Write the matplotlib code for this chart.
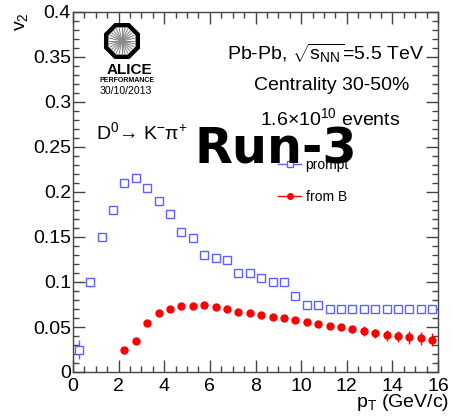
import numpy as np
import matplotlib
matplotlib.use("Agg")
import matplotlib.pyplot as plt
from matplotlib.patches import RegularPolygon
from matplotlib.lines import Line2D
from matplotlib.ticker import MultipleLocator

plt.rcParams['font.family'] = ['Liberation Sans', 'DejaVu Sans']
plt.rcParams['mathtext.fontset'] = 'custom'
plt.rcParams['mathtext.rm'] = 'Liberation Sans'
plt.rcParams['mathtext.it'] = 'Liberation Sans:italic'
plt.rcParams['mathtext.bf'] = 'Liberation Sans:bold'

# ---------------- data ----------------
pt_prompt = [0.25, 0.75, 1.25, 1.75, 2.25, 2.75, 3.25, 3.75, 4.25, 4.75, 5.25, 5.75,
             6.25, 6.75, 7.25, 7.75, 8.25, 8.75, 9.25, 9.75, 10.25, 10.75, 11.25,
             11.75, 12.25, 12.75, 13.25, 13.75, 14.25, 14.75, 15.25, 15.75]
v2_prompt = [0.025, 0.100, 0.150, 0.180, 0.210, 0.215, 0.205, 0.190, 0.176, 0.155,
             0.149, 0.130, 0.127, 0.125, 0.110, 0.110, 0.105, 0.100, 0.100, 0.085,
             0.075, 0.075, 0.070, 0.070, 0.070, 0.070, 0.070, 0.070, 0.070, 0.070,
             0.070, 0.070]
err_prompt = [0.011, 0.005, 0.001, 0.001, 0.001, 0.001, 0.001, 0.001, 0.001, 0.001,
              0.001, 0.001, 0.001, 0.001, 0.001, 0.001, 0.001, 0.001, 0.001, 0.001,
              0.001, 0.001, 0.001, 0.001, 0.001, 0.001, 0.001, 0.001, 0.001, 0.001,
              0.001, 0.001]

pt_fromB = [2.25, 2.75, 3.25, 3.75, 4.25, 4.75, 5.25, 5.75, 6.25, 6.75, 7.25, 7.75,
            8.25, 8.75, 9.25, 9.75, 10.25, 10.75, 11.25, 11.75, 12.25, 12.75, 13.25,
            13.75, 14.25, 14.75, 15.25, 15.75]
v2_fromB = [0.024, 0.034, 0.054, 0.066, 0.070, 0.073, 0.0733, 0.074, 0.072, 0.070,
            0.067, 0.0655, 0.0637, 0.0615, 0.060, 0.0574, 0.0555, 0.0537, 0.0515,
            0.0496, 0.0474, 0.0452, 0.0433, 0.041, 0.0396, 0.0385, 0.0374, 0.036]
err_fromB = [0.004, 0.003, 0.002, 0.001, 0.001, 0.001, 0.001, 0.001, 0.001, 0.001,
             0.001, 0.001, 0.001, 0.001, 0.001, 0.001, 0.001, 0.0012, 0.0015, 0.002,
             0.004, 0.0055, 0.005, 0.006, 0.006, 0.007, 0.0075, 0.0075]

labels = ["prompt", "from B"]
x_label = r"p$_{\mathrm{T}}$ (GeV/c)"
y_label = r"v$_{2}$"

BLUE = '#6060ff'
RED = '#ff0000'
GRAY = '#444444'

# ---------------- figure ----------------
fig = plt.figure(figsize=(4.53, 4.18), dpi=100)
ax = fig.add_axes([73/453, 1-372/418, 365/453, 360/418])

ax.errorbar(pt_prompt, v2_prompt, yerr=err_prompt, fmt='s', ms=5.5,
            mfc='white', mec=BLUE, mew=1.0, color=BLUE, ecolor=BLUE,
            elinewidth=1.0, capsize=0, zorder=3)
ax.errorbar(pt_fromB, v2_fromB, yerr=err_fromB, fmt='o', ms=5,
            mfc=RED, mec=RED, color=RED, ecolor=RED, elinewidth=1.0,
            capsize=0, zorder=3)

ax.set_xlim(0, 16)
ax.set_ylim(0, 0.4)
ax.xaxis.set_major_locator(MultipleLocator(2))
ax.xaxis.set_minor_locator(MultipleLocator(0.5))
ax.yaxis.set_major_locator(MultipleLocator(0.05))
ax.yaxis.set_minor_locator(MultipleLocator(0.01))
ax.yaxis.set_major_formatter(matplotlib.ticker.FuncFormatter(
    lambda v, p: ('%g' % round(v, 3))))
ax.tick_params(which='both', direction='in', top=True, right=True,
               width=1.0, color=GRAY)
ax.tick_params(which='major', length=8.5)
ax.tick_params(which='minor', length=4.3)
ax.tick_params(axis='x', labelsize=14, pad=4)
ax.tick_params(axis='y', labelsize=14, pad=1.5)
for s in ax.spines.values():
    s.set_linewidth(1.0)
    s.set_color(GRAY)

# axis titles
fig.text(449/453, 1-407/418, x_label, ha='right', va='baseline', fontsize=14)
fig.text(22/453, 1-12/418, y_label, ha='center', va='top', fontsize=14, rotation=90)

# legend (ROOT "lp" style entries)
lh1 = Line2D([], [], color=BLUE, lw=1.0, marker='s', ms=4, mfc='white', mec=BLUE)
lh2 = Line2D([], [], color=RED, lw=1.0, marker='o', ms=4, mfc=RED, mec=RED)
leg = ax.legend(handles=[lh1, lh2], labels=labels, loc='upper left',
                bbox_to_anchor=(0.563, 0.595), frameon=False, fontsize=10,
                handlelength=1.6, handletextpad=0.35, labelspacing=1.3,
                borderpad=0, borderaxespad=0)

# panel texts
ax.text(0.693, 0.886, r"Pb-Pb, $\sqrt{\mathrm{s}_{\mathrm{NN}}}$=5.5 TeV",
        transform=ax.transAxes, ha='center', va='center', fontsize=14)
ax.text(0.708, 0.797, "Centrality 30-50%", transform=ax.transAxes,
        ha='center', va='center', fontsize=14)
ax.text(0.704, 0.706, r"1.6$\times$10$^{10}$ events", transform=ax.transAxes,
        ha='center', va='center', fontsize=14)
ax.text(0.062, 0.667, r"D$^{0}$→ K$^{-}$π$^{+}$", transform=ax.transAxes,
        ha='left', va='center', fontsize=14)

# Run-3 overlay
ax.text(0.557, 0.578, "Run-3", transform=ax.transAxes, ha='center', va='baseline',
        fontsize=35.5, fontweight='bold', family='DejaVu Sans', color='black', zorder=10)

# ALICE logo
lax = fig.add_axes([103/453, 1-60/418, 38/453, 38/418])
lax.set_xlim(-1, 1); lax.set_ylim(-1, 1); lax.axis('off')
oct_ = RegularPolygon((0, 0), numVertices=8, radius=0.9, orientation=np.pi/8,
                      facecolor='white', edgecolor='black', lw=3.2)
lax.add_patch(oct_)
for a in np.linspace(0, 2*np.pi, 28, endpoint=False):
    lax.plot([0, 0.7*np.cos(a)], [0, 0.7*np.sin(a)], color='#888888', lw=0.8)
fig.text(129/453, 1-70/418, "ALICE", ha='center', va='center', fontsize=11,
         fontweight='bold')
fig.text(127/453, 1-81/418, "PERFORMANCE", ha='center', va='center', fontsize=5,
         fontweight='bold')
fig.text(100/453, 1-91/418, "30/10/2013", ha='left', va='center', fontsize=7.6)

fig.savefig("out.png", dpi=100)
